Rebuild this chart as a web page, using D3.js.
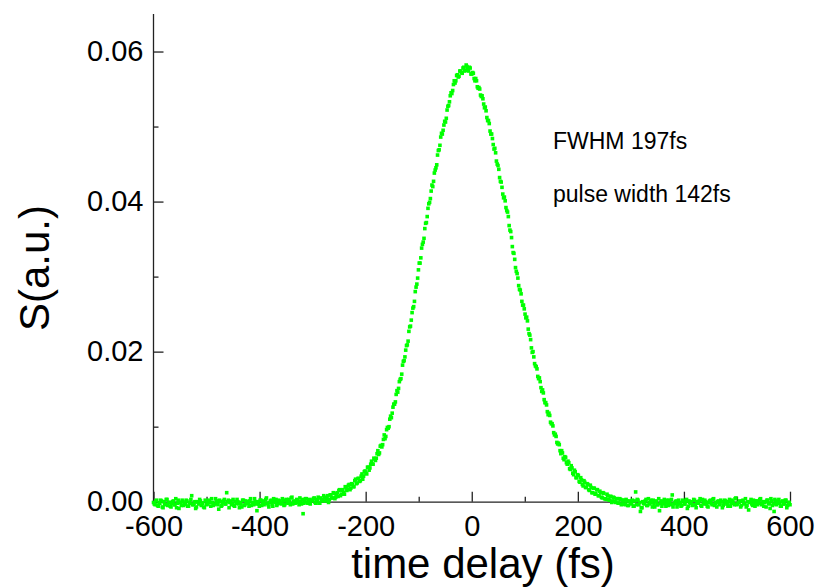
<!DOCTYPE html>
<html>
<head>
<meta charset="utf-8">
<script src="https://cdn.jsdelivr.net/npm/d3@7/dist/d3.min.js"></script>
<style>
	body { margin: 0; background: #fff; }
	svg { display: block; }
	text { font-family: "Liberation Sans", Arial, sans-serif; fill: #000; }
</style>
</head>
<body>
<svg id="chart" width="821" height="587"></svg>
<script>
// [time delay (fs), S (a.u.)]
var baselineLeft = [
	[-600,-0.0001],[-597,-0.0004],[-594,0.0002],[-591,-0.0006],[-588,-0.0002],[-585,0.0001],[-582,-0.0008],[-579,-0.0003],[-576,0.0003],[-573,-0.0005],
	[-570,-0.0001],[-567,-0.0007],[-564,0.0000],[-561,-0.0004],[-558,0.0004],[-555,-0.0002],[-552,-0.0009],[-549,-0.0001],[-546,0.0002],[-543,-0.0005],
	[-540,-0.0003],[-537,0.0001],[-534,-0.0006],[-531,-0.0002],[-528,0.0008],[-525,-0.0004],[-522,0.0000],[-519,-0.0007],[-516,-0.0001],[-513,0.0003],
	[-510,-0.0005],[-507,-0.0002],[-504,-0.0008],[-501,0.0001],[-498,-0.0003],[-495,0.0002],[-492,-0.0006],[-489,-0.0001],[-486,-0.0004],[-483,0.0004],
	[-480,-0.0002],[-477,-0.0010],[-474,0.0000],[-471,-0.0005],[-468,0.0001],[-465,-0.0003],[-462,0.0012],[-459,0.0002],[-456,-0.0001],[-453,-0.0004],
	[-450,0.0003],[-447,-0.0006],[-444,-0.0002],[-441,0.0000],[-438,-0.0008],[-435,-0.0003],[-432,0.0002],[-429,-0.0005],[-426,0.0001],[-423,-0.0002],
	[-420,-0.0006],[-417,0.0004],[-414,-0.0001],[-411,-0.0004],[-408,0.0000],[-405,-0.0012],[-402,-0.0003],[-399,0.0002],[-396,-0.0005],[-393,0.0001],
	[-390,-0.0002],[-387,0.0005],[-384,-0.0004],[-381,-0.0001],[-378,0.0002],[-375,-0.0006],[-372,0.0000],[-369,0.0003],[-366,-0.0003],[-363,0.0001],
	[-360,-0.0002],[-357,0.0004],[-354,-0.0005],[-351,0.0002],[-348,-0.0001],[-345,0.0003],[-342,-0.0004],[-339,0.0006],[-336,0.0000],[-333,-0.0002],
	[-330,0.0003],[-327,-0.0001],[-324,0.0005],[-321,-0.0003],[-318,-0.0016],[-315,0.0000],[-312,0.0004],[-309,-0.0002],[-306,0.0003],[-303,0.0001],
	[-300,0.0002]
];

var baselineLeftMid = [
	[-598.5,-0.0003],[-595.5,0.0001],[-592.5,-0.0005],[-589.5,-0.0002],[-586.5,0.0002],[-583.5,-0.0007],[-580.5,0.0000],[-577.5,-0.0004],[-574.5,0.0003],[-571.5,-0.0001],
	[-568.5,-0.0006],[-565.5,-0.0002],[-562.5,0.0001],[-559.5,-0.0004],[-556.5,-0.0008],[-553.5,0.0002],[-550.5,-0.0001],[-547.5,-0.0005],[-544.5,0.0000],[-541.5,-0.0003],
	[-538.5,0.0002],[-535.5,-0.0006],[-532.5,-0.0001],[-529.5,0.0003],[-526.5,-0.0004],[-523.5,-0.0002],[-520.5,-0.0009],[-517.5,0.0000],[-514.5,-0.0003],[-511.5,0.0001],
	[-508.5,-0.0002],[-505.5,-0.0007],[-502.5,0.0002],[-499.5,-0.0004],[-496.5,0.0000],[-493.5,-0.0001],[-490.5,0.0004],[-487.5,-0.0005],[-484.5,-0.0003],[-481.5,0.0001],
	[-478.5,-0.0004],[-475.5,0.0002],[-472.5,-0.0006],[-469.5,-0.0001],[-466.5,0.0003],[-463.5,-0.0003],[-460.5,0.0000],[-457.5,-0.0008],[-454.5,0.0001],[-451.5,-0.0002],
	[-448.5,-0.0005],[-445.5,0.0000],[-442.5,0.0003],[-439.5,-0.0003],[-436.5,-0.0001],[-433.5,-0.0007],[-430.5,0.0002],[-427.5,-0.0004],[-424.5,0.0000],[-421.5,-0.0002],
	[-418.5,0.0001],[-415.5,-0.0005],[-412.5,-0.0002],[-409.5,0.0004],[-406.5,-0.0003],[-403.5,0.0000],[-400.5,-0.0006],[-397.5,0.0002],[-394.5,-0.0001],[-391.5,-0.0004],
	[-388.5,0.0003],[-385.5,-0.0002],[-382.5,-0.0007],[-379.5,0.0001],[-376.5,-0.0003],[-373.5,0.0004],[-370.5,-0.0001],[-367.5,-0.0005],[-364.5,0.0002],[-361.5,0.0000],
	[-358.5,-0.0003],[-355.5,0.0001],[-352.5,-0.0004],[-349.5,0.0003],[-346.5,-0.0002],[-343.5,0.0000],[-340.5,0.0005],[-337.5,-0.0003],[-334.5,0.0001],[-331.5,-0.0001],
	[-328.5,0.0002],[-325.5,-0.0004],[-322.5,0.0000],[-319.5,0.0003],[-316.5,-0.0002],[-313.5,0.0004],[-310.5,-0.0001],[-307.5,0.0001],[-304.5,-0.0003],[-301.5,0.0002],
	[-298.5,0.0004],[-295.5,-0.0001],[-292.5,0.0002],[-289.5,0.0006],[-286.5,-0.0002],[-283.5,0.0003],[-280.5,0.0001],[-277.5,0.0006],[-274.5,0.0002],[-271.5,0.0008],
	[-268.5,0.0003],[-265.5,0.0009],[-262.5,0.0005],[-259.5,0.0011],[-256.5,0.0006],[-253.5,0.0012]
];

var pulse = [
	[-297,0.0005],[-294,-0.0002],[-291,0.0003],[-288,-0.0002],[-285,0.0005],[-282,0.0002],[-279,0.0008],[-276,0.0001],[-273,0.0005],[-270,-0.0001],
	[-267,0.0009],[-264,0.0005],[-261,0.0012],[-258,0.0004],[-255,0.0010],[-252,0.0007],[-249,0.0016],[-246,0.0010],[-243,0.0016],[-240,0.0010],
	[-237,0.0019],[-234,0.0017],[-231,0.0023],[-228,0.0018],[-225,0.0023],[-222,0.0020],[-219,0.0030],[-216,0.0025],[-213,0.0031],[-210,0.0028],
	[-207,0.0037],[-204,0.0034],[-201,0.0041],[-198,0.0037],[-195,0.0046],[-192,0.0045],[-189,0.0054],[-186,0.0050],[-183,0.0057],[-180,0.0058],
	[-177,0.0068],[-174,0.0065],[-171,0.0075],[-168,0.0076],[-165,0.0089],[-162,0.0087],[-159,0.0099],[-156,0.0100],[-153,0.0114],[-150,0.0118],
	[-147,0.0130],[-144,0.0133],[-141,0.0148],[-138,0.0151],[-135,0.0163],[-132,0.0170],[-129,0.0187],[-126,0.0193],[-123,0.0208],[-120,0.0214],
	[-117,0.0233],[-114,0.0242],[-111,0.0258],[-108,0.0267],[-105,0.0286],[-102,0.0298],[-99,0.0318],[-96,0.0325],[-93,0.0343],[-90,0.0351],
	[-87,0.0371],[-84,0.0380],[-81,0.0397],[-78,0.0404],[-75,0.0422],[-72,0.0427],[-69,0.0442],[-66,0.0449],[-63,0.0468],[-60,0.0475],
	[-57,0.0491],[-54,0.0495],[-51,0.0507],[-48,0.0511],[-45,0.0527],[-42,0.0533],[-39,0.0545],[-36,0.0548],[-33,0.0561],[-30,0.0561],
	[-27,0.0569],[-24,0.0567],[-21,0.0574],[-18,0.0571],[-15,0.0579],[-12,0.0575],[-9,0.0580],[-6,0.0574],[-3,0.0578],[0,0.0570],
	[3,0.0571],[6,0.0561],[9,0.0561],[12,0.0551],[15,0.0550],[18,0.0540],[21,0.0537],[24,0.0525],[27,0.0521],[30,0.0508],
	[33,0.0504],[36,0.0490],[39,0.0484],[42,0.0470],[45,0.0465],[48,0.0450],[51,0.0443],[54,0.0427],[57,0.0419],[60,0.0405],
	[63,0.0401],[66,0.0388],[69,0.0380],[72,0.0362],[75,0.0352],[78,0.0332],[81,0.0323],[84,0.0307],[87,0.0298],[90,0.0283],
	[93,0.0277],[96,0.0262],[99,0.0257],[102,0.0245],[105,0.0241],[108,0.0224],[111,0.0216],[114,0.0199],[117,0.0193],[120,0.0181],
	[123,0.0177],[126,0.0164],[129,0.0160],[132,0.0147],[135,0.0145],[138,0.0132],[141,0.0129],[144,0.0116],[147,0.0115],[150,0.0104],
	[153,0.0101],[156,0.0089],[159,0.0087],[162,0.0077],[165,0.0076],[168,0.0064],[171,0.0065],[174,0.0056],[177,0.0059],[180,0.0050],
	[183,0.0052],[186,0.0043],[189,0.0045],[192,0.0036],[195,0.0040],[198,0.0032],[201,0.0035],[204,0.0026],[207,0.0029],[210,0.0021],
	[213,0.0026],[216,0.0019],[219,0.0023],[222,0.0015],[225,0.0019],[228,0.0012],[231,0.0018],[234,0.0011],[237,0.0016],[240,0.0008],
	[243,0.0012],[246,0.0005],[249,0.0011],[252,0.0004],[255,0.0010],[258,0.0003],[261,0.0007],[264,-0.0001],[267,0.0006],[270,0.0000],
	[273,0.0004],[276,-0.0002],[279,0.0004],[282,-0.0004],[285,0.0002],[288,-0.0003],[291,0.0003],[294,-0.0005],[297,0.0001]
];

var pulseMid = [
	[-250.5,0.0015],[-247.5,0.0008],[-244.5,0.0015],[-241.5,0.0012],[-238.5,0.0020],[-235.5,0.0015],[-232.5,0.0022],[-229.5,0.0016],[-226.5,0.0024],[-223.5,0.0020],
	[-220.5,0.0028],[-217.5,0.0024],[-214.5,0.0031],[-211.5,0.0027],[-208.5,0.0034],[-205.5,0.0030],[-202.5,0.0040],[-199.5,0.0038],[-196.5,0.0046],[-193.5,0.0042],
	[-190.5,0.0050],[-187.5,0.0050],[-184.5,0.0058],[-181.5,0.0055],[-178.5,0.0064],[-175.5,0.0063],[-172.5,0.0074],[-169.5,0.0073],[-166.5,0.0083],[-163.5,0.0084],
	[-160.5,0.0096],[-157.5,0.0098],[-154.5,0.0110],[-151.5,0.0112],[-148.5,0.0126],[-145.5,0.0130],[-142.5,0.0143],[-139.5,0.0146],[-136.5,0.0160],[-133.5,0.0164],
	[-130.5,0.0182],[-127.5,0.0188],[-124.5,0.0202],[-121.5,0.0209],[-118.5,0.0227],[-115.5,0.0234],[-112.5,0.0252],[-109.5,0.0260],[-106.5,0.0280],[-103.5,0.0290],
	[-100.5,0.0309],[-97.5,0.0318],[-94.5,0.0338],[-91.5,0.0346],[-88.5,0.0364],[-85.5,0.0372],[-82.5,0.0391],[-79.5,0.0399],[-76.5,0.0414],[-73.5,0.0420],
	[-70.5,0.0438],[-67.5,0.0445],[-64.5,0.0462],[-61.5,0.0469],[-58.5,0.0486],[-55.5,0.0490],[-52.5,0.0502],[-49.5,0.0506],[-46.5,0.0522],[-43.5,0.0528],
	[-40.5,0.0541],[-37.5,0.0544],[-34.5,0.0556],[-31.5,0.0558],[-28.5,0.0568],[-25.5,0.0566],[-22.5,0.0574],[-19.5,0.0572],[-16.5,0.0578],[-13.5,0.0574],
	[-10.5,0.0582],[-7.5,0.0576],[-4.5,0.0579],[-1.5,0.0570],[1.5,0.0572],[4.5,0.0564],[7.5,0.0564],[10.5,0.0553],[13.5,0.0552],[16.5,0.0542],
	[19.5,0.0541],[22.5,0.0530],[25.5,0.0526],[28.5,0.0512],[31.5,0.0508],[34.5,0.0494],[37.5,0.0490],[40.5,0.0476],[43.5,0.0471],[46.5,0.0454],
	[49.5,0.0448],[52.5,0.0432],[55.5,0.0426],[58.5,0.0410],[61.5,0.0406],[64.5,0.0392],[67.5,0.0386],[70.5,0.0368],[73.5,0.0360],[76.5,0.0340],
	[79.5,0.0331],[82.5,0.0312],[85.5,0.0304],[88.5,0.0288],[91.5,0.0282],[94.5,0.0267],[97.5,0.0262],[100.5,0.0250],[103.5,0.0246],[106.5,0.0230],
	[109.5,0.0222],[112.5,0.0205],[115.5,0.0200],[118.5,0.0184],[121.5,0.0180],[124.5,0.0167],[127.5,0.0165],[130.5,0.0152],[133.5,0.0149],[136.5,0.0136],
	[139.5,0.0132],[142.5,0.0120],[145.5,0.0118],[148.5,0.0106],[151.5,0.0104],[154.5,0.0092],[157.5,0.0090],[160.5,0.0079],[163.5,0.0078],[166.5,0.0068],
	[169.5,0.0068],[172.5,0.0058],[175.5,0.0060],[178.5,0.0052],[181.5,0.0054],[184.5,0.0044],[187.5,0.0048],[190.5,0.0038],[193.5,0.0042],[196.5,0.0032],
	[199.5,0.0036],[202.5,0.0027],[205.5,0.0032],[208.5,0.0023],[211.5,0.0028],[214.5,0.0019],[217.5,0.0024],[220.5,0.0016],[223.5,0.0022],[226.5,0.0012],
	[229.5,0.0018],[232.5,0.0010],[235.5,0.0016],[238.5,0.0008],[241.5,0.0014],[244.5,0.0006],[247.5,0.0012],[250.5,0.0004]
];

var baselineRight = [
	[300,-0.0003],[303,0.0002],[306,-0.0006],[309,0.0013],[312,0.0003],[315,-0.0004],[318,-0.0013],[321,-0.0008],[324,-0.0002],[327,0.0001],
	[330,-0.0005],[333,0.0004],[336,-0.0003],[339,-0.0001],[342,0.0002],[345,-0.0007],[348,0.0000],[351,-0.0004],[354,-0.0012],[357,0.0001],
	[360,-0.0002],[363,0.0003],[366,-0.0006],[369,-0.0001],[372,0.0002],[375,-0.0004],[378,0.0009],[381,-0.0003],[384,0.0000],[387,-0.0007],
	[390,0.0002],[393,-0.0002],[396,-0.0005],[399,0.0001],[402,-0.0003],[405,0.0003],[408,-0.0006],[411,-0.0001],[414,0.0000],[417,-0.0004],
	[420,0.0002],[423,-0.0008],[426,-0.0002],[429,0.0001],[432,-0.0005],[435,0.0003],[438,-0.0003],[441,0.0000],[444,-0.0006],[447,-0.0001],
	[450,0.0002],[453,-0.0004],[456,0.0004],[459,-0.0002],[462,-0.0007],[465,0.0001],[468,-0.0003],[471,0.0000],[474,-0.0005],[477,0.0002],
	[480,-0.0001],[483,-0.0006],[486,0.0003],[489,-0.0002],[492,0.0000],[495,-0.0004],[498,0.0005],[501,-0.0003],[504,-0.0001],[507,-0.0007],
	[510,0.0001],[513,-0.0002],[516,0.0004],[519,-0.0005],[522,-0.0011],[525,0.0000],[528,-0.0003],[531,0.0002],[534,-0.0006],[537,0.0001],
	[540,-0.0002],[543,0.0003],[546,-0.0004],[549,0.0000],[552,-0.0001],[555,-0.0007],[558,0.0002],[561,-0.0003],[564,0.0004],[567,-0.0005],
	[570,-0.0013],[573,0.0001],[576,-0.0002],[579,0.0003],[582,-0.0006],[585,0.0000],[588,-0.0003],[591,0.0002],[594,-0.0008],[597,-0.0001],
	[600,-0.0004]
];

var baselineRightMid = [
	[253.5,0.0003],[256.5,0.0008],[259.5,0.0002],[262.5,0.0007],[265.5,0.0001],[268.5,0.0005],
	[271.5,-0.0001],[274.5,0.0004],[277.5,-0.0002],[280.5,0.0003],[283.5,-0.0003],[286.5,0.0002],[289.5,-0.0004],[292.5,0.0001],[295.5,-0.0005],[298.5,0.0000],
	[301.5,-0.0002],[304.5,-0.0006],[307.5,0.0001],[310.5,-0.0004],[313.5,0.0002],[316.5,-0.0001],[319.5,-0.0008],[322.5,0.0000],[325.5,-0.0003],[328.5,0.0003],
	[331.5,-0.0005],[334.5,-0.0001],[337.5,0.0002],[340.5,-0.0007],[343.5,-0.0003],[346.5,0.0001],[349.5,-0.0004],[352.5,0.0004],[355.5,-0.0002],[358.5,-0.0006],
	[361.5,0.0000],[364.5,-0.0003],[367.5,0.0002],[370.5,-0.0005],[373.5,-0.0001],[376.5,0.0003],[379.5,-0.0007],[382.5,-0.0002],[385.5,0.0001],[388.5,-0.0004],
	[391.5,-0.0001],[394.5,-0.0006],[397.5,0.0002],[400.5,-0.0003],[403.5,0.0000],[406.5,-0.0009],[409.5,0.0001],[412.5,-0.0002],[415.5,-0.0005],[418.5,0.0003],
	[421.5,-0.0004],[424.5,0.0000],[427.5,-0.0002],[430.5,0.0004],[433.5,-0.0006],[436.5,-0.0001],[439.5,0.0002],[442.5,-0.0003],[445.5,-0.0007],[448.5,0.0001],
	[451.5,-0.0002],[454.5,0.0003],[457.5,-0.0005],[460.5,-0.0001],[463.5,0.0000],[466.5,-0.0004],[469.5,0.0002],[472.5,-0.0008],[475.5,-0.0003],[478.5,0.0001],
	[481.5,-0.0003],[484.5,0.0000],[487.5,-0.0006],[490.5,0.0002],[493.5,-0.0002],[496.5,0.0004],[499.5,-0.0004],[502.5,-0.0001],[505.5,0.0001],[508.5,-0.0005],
	[511.5,0.0002],[514.5,-0.0003],[517.5,-0.0007],[520.5,0.0000],[523.5,-0.0001],[526.5,0.0003],[529.5,-0.0005],[532.5,-0.0002],[535.5,0.0001],[538.5,-0.0004],
	[541.5,-0.0001],[544.5,0.0004],[547.5,-0.0003],[550.5,-0.0006],[553.5,0.0000],[556.5,0.0002],[559.5,-0.0002],[562.5,-0.0009],[565.5,0.0001],[568.5,-0.0003],
	[571.5,0.0003],[574.5,-0.0004],[577.5,0.0000],[580.5,-0.0002],[583.5,-0.0006],[586.5,0.0001],[589.5,-0.0003],[592.5,0.0002],[595.5,-0.0005],[598.5,-0.0001]
];

var xMajorTicks = [-600, -400, -200, 0, 200, 400, 600];
var xMinorTicks = [-500, -300, -100, 100, 300, 500];
var yMajorTicks = [0, 0.02, 0.04, 0.06];
var yMinorTicks = [0.01, 0.03, 0.05];
var notes = ["FWHM 197fs", "pulse width 142fs"];

var data = baselineLeft.concat(baselineLeftMid, pulse, pulseMid, baselineRight, baselineRightMid);

var svg = d3.select("#chart");

var x = d3.scaleLinear().domain([-600, 600]).range([153.5, 790]);
var y = d3.scaleLinear().domain([0, 0.065]).range([501.7, 14]);

var axisColor = "#222";
var tickFont = 29;
var dot = 3.6;

var styleAxis = function(g) {
	g.attr("font-family", null).attr("font-size", null);
	g.selectAll("line").attr("stroke", axisColor).attr("stroke-width", 1.3);
	g.selectAll("path.domain").attr("stroke", axisColor).attr("stroke-width", 1.3);
	g.selectAll("text").style("font-size", tickFont + "px");
};

// bottom axis, ticks point inward
svg.append("g")
		.attr("transform", "translate(0," + y(0) + ")")
		.call(d3.axisBottom(x).tickValues(xMinorTicks).tickSize(-5).tickSizeOuter(0).tickFormat(""))
		.call(function(g) { g.select(".domain").remove(); styleAxis(g); });

svg.append("g")
		.attr("transform", "translate(0," + y(0) + ")")
		.call(d3.axisBottom(x).tickValues(xMajorTicks).tickSize(-10).tickSizeOuter(0).tickPadding(14)
			.tickFormat(function(d) { return String(d); }))
		.call(styleAxis);

// left axis
svg.append("g")
		.attr("transform", "translate(" + x(-600) + ",0)")
		.call(d3.axisLeft(y).tickValues(yMinorTicks).tickSize(-5).tickSizeOuter(0).tickFormat(""))
		.call(function(g) { g.select(".domain").remove(); styleAxis(g); });

svg.append("g")
		.attr("transform", "translate(" + x(-600) + ",0)")
		.call(d3.axisLeft(y).tickValues(yMajorTicks).tickSize(-10).tickSizeOuter(0).tickPadding(10)
			.tickFormat(d3.format(".2f")))
		.call(function(g) {
			styleAxis(g);
			g.select(".domain").attr("d", "M0," + y(0) + "V14");
		});

// scan points
svg.append("g").selectAll("rect")
		.data(data)
	.enter().append("rect")
		.attr("x", function(d) { return x(d[0]) - dot / 2; })
		.attr("y", function(d) { return y(d[1]) - dot / 2; })
		.attr("width", dot)
		.attr("height", dot)
		.attr("fill", "#00ff00");

svg.append("text")
		.attr("x", 483)
		.attr("y", 578)
		.attr("text-anchor", "middle")
		.style("font-size", "42px")
		.text("time delay (fs)");

svg.append("text")
		.attr("transform", "translate(49,268) rotate(-90)")
		.attr("text-anchor", "middle")
		.style("font-size", "42px")
		.text("S(a.u.)");

svg.append("g").selectAll("text")
		.data(notes)
	.enter().append("text")
		.attr("x", 553)
		.attr("y", function(d, i) { return 149 + i * 53; })
		.style("font-size", "23px")
		.text(function(d) { return d; });
</script>
</body>
</html>
